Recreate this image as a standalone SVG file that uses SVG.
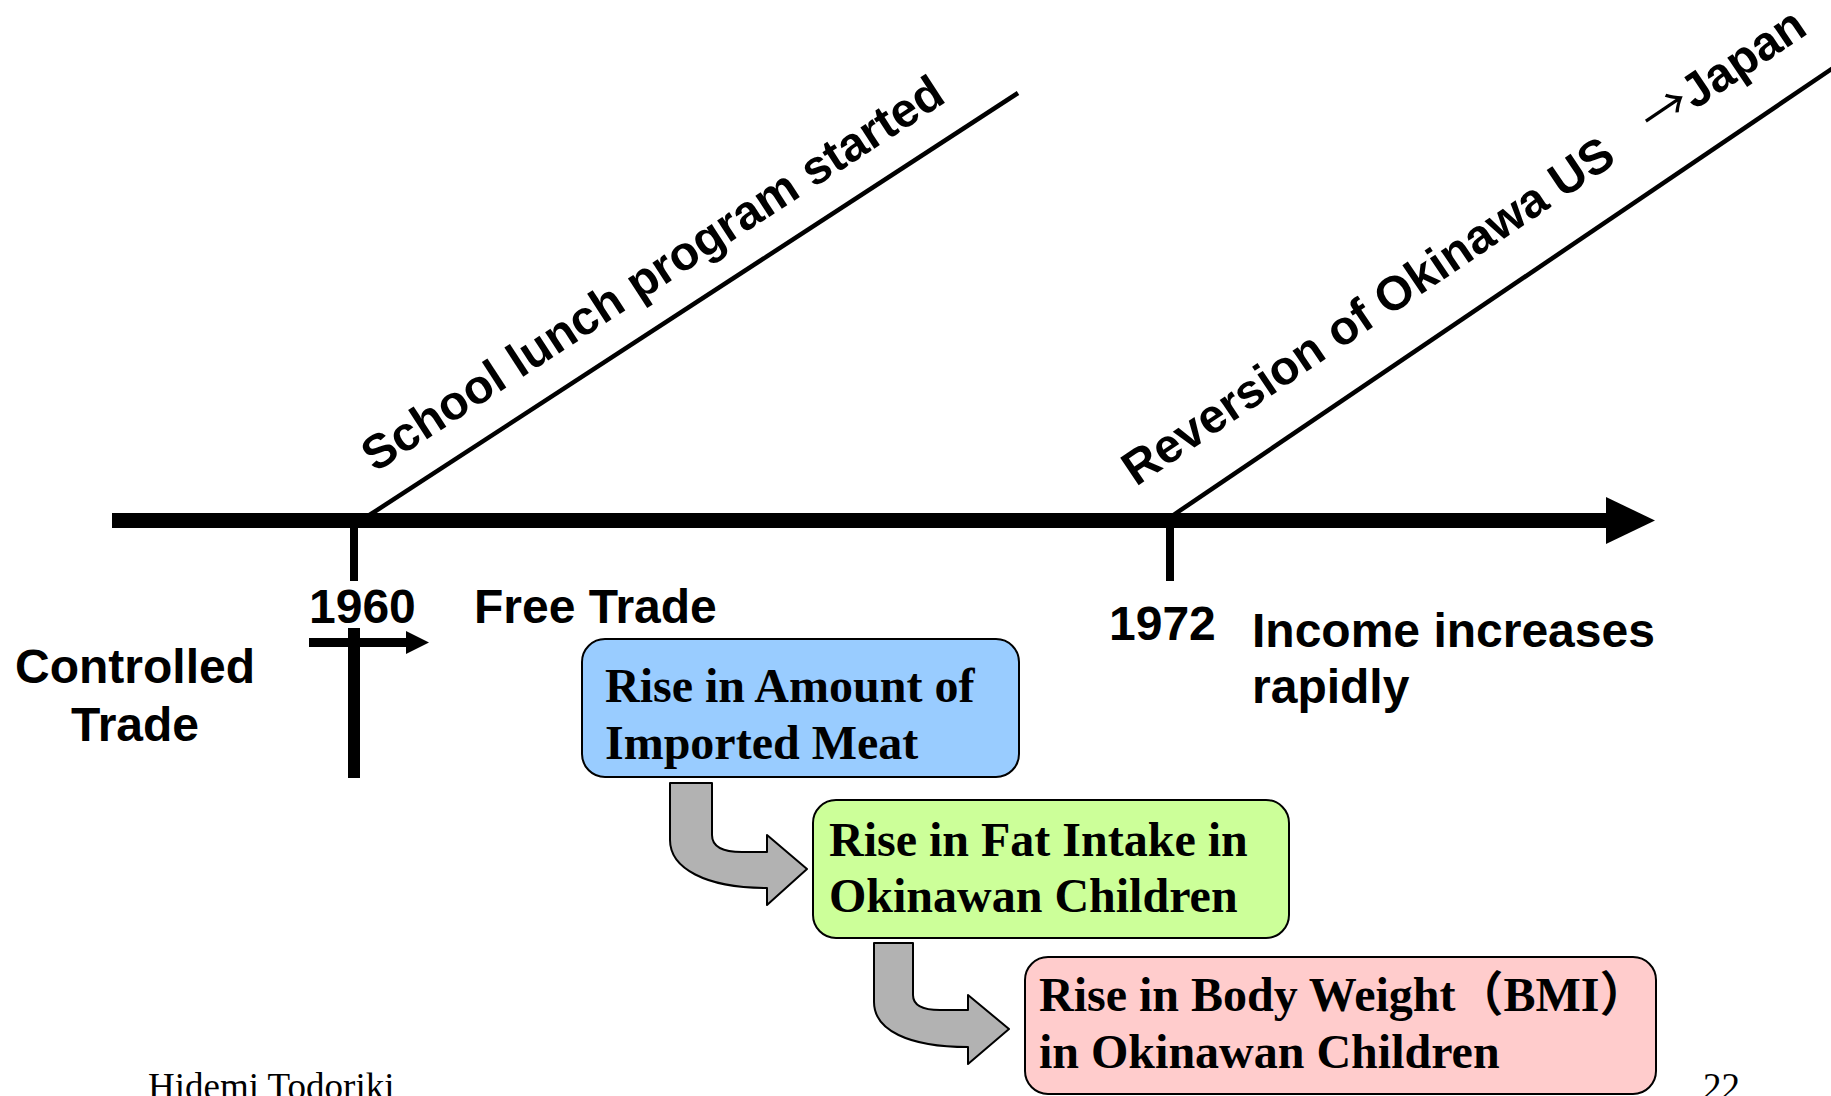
<svg xmlns="http://www.w3.org/2000/svg" width="1831" height="1096" viewBox="0 0 1831 1096">
  <style>
    .sans { font-family: "Liberation Sans", Arial, sans-serif; font-weight: bold; font-size: 48px; fill: #000; }
    .serif { font-family: "Liberation Serif", "Noto Sans CJK JP", serif; font-weight: bold; font-size: 48px; fill: #000; }
    .foot { font-family: "Liberation Serif", "Times New Roman", serif; font-size: 37px; fill: #000; }
    .box { stroke: #000; stroke-width: 2; }
    .bent { fill: #B2B2B2; stroke: #000; stroke-width: 2; stroke-linejoin: round; }
    .diag { stroke: #000; stroke-width: 4.5; fill: none; }
  </style>
  <rect width="1831" height="1096" fill="#FFFFFF"/>

  <g id="timeline">
    <rect x="112" y="513" width="1497" height="15" fill="#000"/>
    <polygon points="1606,497 1655,520.5 1606,544" fill="#000"/>
    <rect x="350" y="527" width="8" height="54" fill="#000"/>
    <rect x="1166" y="527" width="8" height="54" fill="#000"/>
    <line class="diag" x1="368" y1="516" x2="1018" y2="93"/>
    <line class="diag" x1="1172" y1="516" x2="1836" y2="66"/>
  </g>

  <g id="divider-1960">
    <rect x="348" y="628" width="12" height="150" fill="#000"/>
    <rect x="309" y="638" width="99" height="9" fill="#000"/>
    <polygon points="406,631 429,642.5 406,654" fill="#000"/>
  </g>

  <g id="labels">
    <text class="sans" transform="translate(375,473) rotate(-33)">School lunch program started</text>
    <text class="sans" font-size="47" transform="translate(1136,487) rotate(-34)">Reversion of Okinawa US<tspan font-family="'Noto Sans CJK JP', sans-serif">　</tspan><tspan font-family="'Noto Sans CJK JP', sans-serif" font-weight="400" dx="-4">→</tspan>Japan</text>
    <text class="sans" x="309" y="623">1960</text>
    <text class="sans" x="474" y="623">Free Trade</text>
    <text class="sans" x="135" y="683" text-anchor="middle">Controlled</text>
    <text class="sans" x="135" y="741" text-anchor="middle">Trade</text>
    <text class="sans" x="1109" y="640">1972</text>
    <text class="sans" x="1252" y="647">Income increases</text>
    <text class="sans" x="1252" y="703">rapidly</text>
  </g>

  <g id="node-imported-meat">
    <rect class="box" x="582" y="639" width="437" height="138" rx="23" ry="23" fill="#99CCFF"/>
    <text class="serif" x="605" y="702">Rise in Amount of</text>
    <text class="serif" x="605" y="759">Imported Meat</text>
  </g>

  <g id="node-fat-intake">
    <rect class="box" x="813" y="800" width="476" height="138" rx="23" ry="23" fill="#CCFF99"/>
    <text class="serif" x="829" y="856">Rise in Fat Intake in</text>
    <text class="serif" x="829" y="912">Okinawan Children</text>
  </g>

  <g id="node-body-weight">
    <rect class="box" x="1025" y="957" width="631" height="137" rx="23" ry="23" fill="#FFCCCC"/>
    <text class="serif" x="1039" y="1011">Rise in Body Weight（BMI）</text>
    <text class="serif" x="1039" y="1068">in Okinawan Children</text>
  </g>

  <g id="connectors">
    <path class="bent" d="M670,783 L712,783 L712,835 C712,847 724,852 742,852 L767,852 L767,835 L807,869 L767,905 L767,888 C705,888 670,868 670,840 Z"/>
    <path class="bent" d="M874,943 L913,943 L913,995 C913,1006 924,1010 940,1010 L968,1010 L968,995 L1009,1029 L968,1064 L968,1047 C908,1047 874,1030 874,1002 Z"/>
  </g>

  <g id="footer">
    <text class="foot" x="148" y="1099">Hidemi Todoriki</text>
    <text class="foot" x="1703" y="1099">22</text>
  </g>
</svg>
